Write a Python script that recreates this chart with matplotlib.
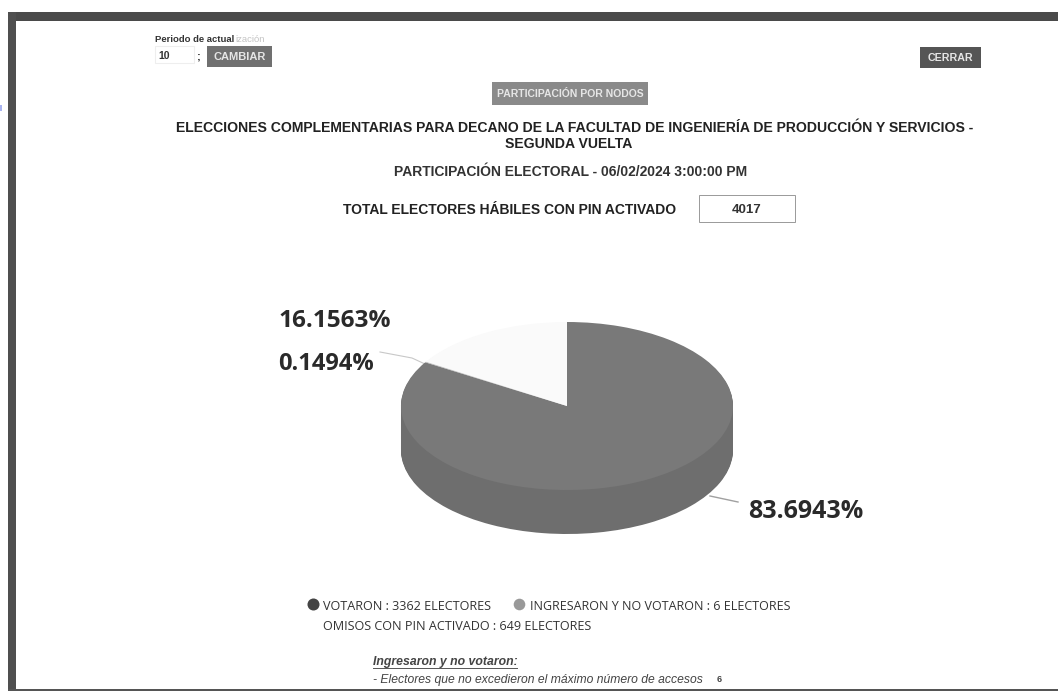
import numpy as np
import matplotlib
matplotlib.use('Agg')
import matplotlib.pyplot as plt
from matplotlib.patches import Rectangle

plt.rcParams['font.family'] = ['Liberation Sans', 'DejaVu Sans']

# datos
categorias = ['VOTARON', 'INGRESARON Y NO VOTARON', 'OMISOS CON PIN ACTIVADO']
electores = [3362, 6, 649]
porcentajes = ['83.6943%', '0.1494%', '16.1563%']
colores_cara = ['#797979', '#bdbdbd', '#fafafa']
colores_lado = ['#6e6e6e', '#8c8c8c', '#e8e8e8']

titulo = ('ELECCIONES COMPLEMENTARIAS PARA DECANO DE LA FACULTAD DE INGENIERÍA '
          'DE PRODUCCIÓN Y SERVICIOS -')
titulo2 = 'SEGUNDA VUELTA'
subtitulo = 'PARTICIPACIÓN ELECTORAL - 06/02/2024 3:00:00 PM'
total_texto = 'TOTAL ELECTORES HÁBILES CON PIN ACTIVADO'
total = sum(electores)

W, H = 1058, 691
fig = plt.figure(figsize=(W / 100, H / 100), dpi=100, facecolor='white')

# capa de pagina en pixeles
ax = fig.add_axes([0, 0, 1, 1])
ax.set_xlim(0, W)
ax.set_ylim(H, 0)
ax.axis('off')

# marco de la captura
ax.add_patch(Rectangle((8, 12), W - 8, 9, color='#4a4a4a', lw=0))
ax.add_patch(Rectangle((8, 12), 8, H - 12, color='#4f4f4f', lw=0))
ax.add_patch(Rectangle((8, 688.5), W - 8, 2.5, color='#555555', lw=0))
ax.add_patch(Rectangle((0, 105), 2, 6, color='#a9b4f0', lw=0))

# controles de arriba
ax.text(155, 39.5, 'Periodo de actual', fontsize=6.8, color='#333333', va='center', weight='bold')
ax.text(235, 39.5, 'ización', fontsize=6.8, color='#c4c4c4', va='center')
ax.add_patch(Rectangle((155, 46), 39, 17, fc='white', ec='#eeeeee', lw=0.8))
ax.text(158, 55.5, '10', fontsize=7.5, color='#333333', va='center', weight='bold')
ax.text(197, 56, ';', fontsize=8, color='#333333', va='center', weight='bold')
ax.add_patch(Rectangle((207, 46), 65, 21, color='#707070', lw=0))
ax.text(239.5, 57, 'CAMBIAR', fontsize=8, color='#e6e6e6', va='center', ha='center', weight='bold')
ax.add_patch(Rectangle((920, 47), 61, 21, color='#555555', lw=0))
ax.text(950.5, 58, 'CERRAR', fontsize=7.7, color='#e6e6e6', va='center', ha='center', weight='bold')
ax.add_patch(Rectangle((492, 82), 156, 23, color='#8a8a8a', lw=0))
ax.text(570, 94, 'PARTICIPACIÓN POR NODOS', fontsize=7.5, color='#e6e6e6', va='center', ha='center', weight='bold')

# titulos
ax.text(575, 127.5, titulo, fontsize=10.1, color='#222222', ha='center', va='center', weight='bold')
ax.text(569, 143.5, titulo2, fontsize=10.1, color='#222222', ha='center', va='center', weight='bold')
ax.text(571, 171.5, subtitulo, fontsize=10, color='#333333', ha='center', va='center', weight='bold')
ax.text(343, 209.5, total_texto, fontsize=10, color='#222222', va='center', weight='bold')
ax.add_patch(Rectangle((699, 195), 96, 27, fc='white', ec='#999999', lw=0.7))
ax.text(747, 210, str(total), fontsize=9.5, color='#333333', ha='center', va='center', weight='bold')

# torta 3d: radio 166x84 px, profundidad 44 px
ax_pie = fig.add_axes([401 / W, 1 - 534 / H, 332 / W, 212 / H])
prof = 44 / 84
for d in np.linspace(prof, 0.01, 45):
    ax_pie.pie(electores, startangle=90, counterclock=False, colors=colores_lado,
               center=(0, -d), radius=1, wedgeprops={'linewidth': 0})
ax_pie.pie(electores, startangle=90, counterclock=False, colors=colores_cara,
           center=(0, 0), radius=1, wedgeprops={'linewidth': 0})
ax_pie.set_aspect('auto')
ax_pie.set_xlim(-1, 1)
ax_pie.set_ylim(-1 - prof, 1)
ax_pie.axis('off')

# etiquetas de la torta
ax.plot([380, 412, 425], [352, 358, 364], color='#c8c8c8', lw=0.8)
ax.plot([710, 738], [496, 502], color='#a0a0a0', lw=1)
ax.text(278, 321, porcentajes[2], fontsize=17.6, color='#2a2a2a', va='center', weight='bold', family='Open Sans')
ax.text(278, 364, porcentajes[1], fontsize=17, color='#2a2a2a', va='center', weight='bold', family='Open Sans')
ax.text(748, 512, porcentajes[0], fontsize=18, color='#2a2a2a', va='center', weight='bold', family='Open Sans')

# leyenda
ax.scatter([313], [604], s=75, color='#444444', lw=0)
ax.text(323, 606, f'{categorias[0]} : {electores[0]} ELECTORES', fontsize=9.1, color='#333333',
        va='center', family='Open Sans')
ax.scatter([519], [604], s=70, color='#999999', lw=0)
ax.text(530, 606, f'{categorias[1]} : {electores[1]} ELECTORES', fontsize=9.0, color='#333333',
        va='center', family='Open Sans')
ax.text(323, 626, f'{categorias[2]} : {electores[2]} ELECTORES', fontsize=9.1, color='#333333',
        va='center', family='Open Sans')

# nota de abajo
ax.text(373, 662, 'Ingresaron y no votaron:', fontsize=8.8, color='#444444', va='center',
        style='italic', weight='bold')
ax.plot([373, 517], [668, 668], color='#555555', lw=0.7)
ax.text(373, 680, '- Electores que no excedieron el máximo número de accesos', fontsize=8.7,
        color='#444444', va='center', style='italic')
ax.text(717, 680, str(electores[1]), fontsize=6.5, color='#444444', va='center', weight='bold')

fig.savefig('out.png', dpi=100)
